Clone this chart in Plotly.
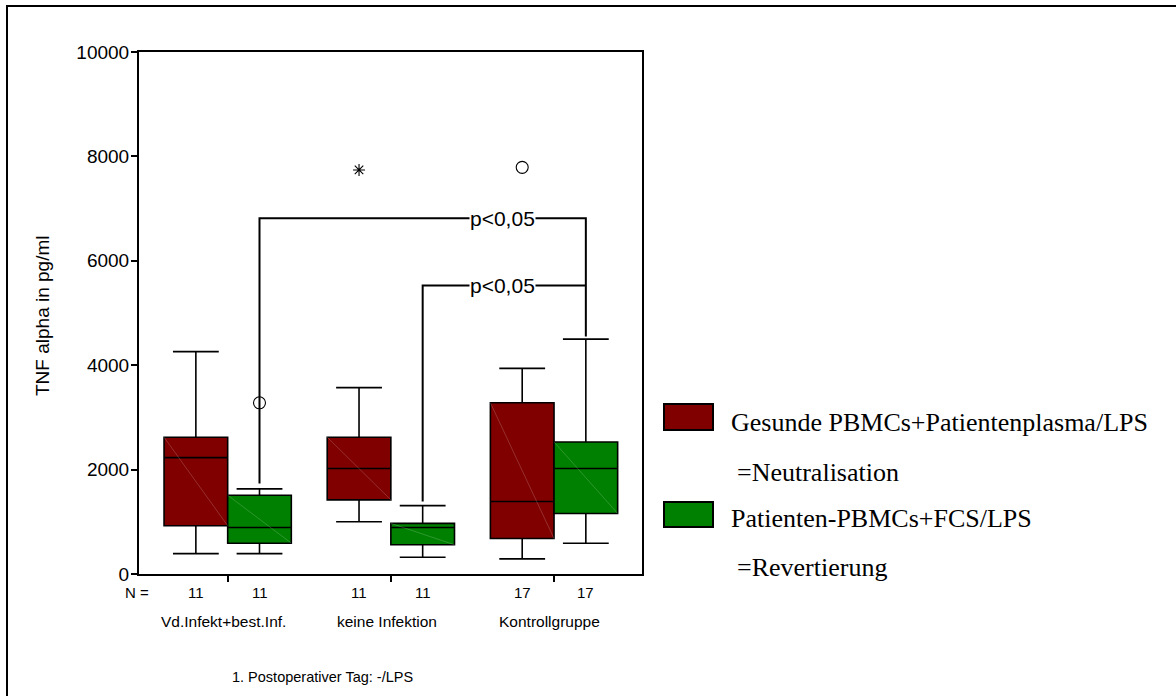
import plotly.graph_objects as go

# ---------------- data ----------------
groups = ["Vd.Infekt+best.Inf.", "keine Infektion", "Kontrollgruppe"]
n_red = [11, 11, 17]
n_green = [11, 11, 17]

red_low = [390, 1000, 290]
red_q1 = [925, 1420, 680]
red_med = [2230, 2020, 1390]
red_q3 = [2620, 2620, 3280]
red_up = [4260, 3570, 3940]

green_low = [390, 320, 590]
green_q1 = [590, 560, 1160]
green_med = [890, 890, 2020]
green_q3 = [1510, 970, 2530]
green_up = [1630, 1310, 4500]

# outliers
outlier_group = [0, 1, 2]
outlier_series = ["green", "red", "red"]
outlier_value = [3280, 7740, 7790]
outlier_symbol = ["circle-open", "asterisk-open", "circle-open"]
outlier_size = [12, 10, 12]

# significance brackets
brk_from = [0, 1]
brk_to = [2, 2]
brk_left_start = [1735, 1390]
brk_height = [6817, 5527]
brk_right_end = [4550, None]
brk_label = ["p<0,05", "p<0,05"]

legend_names = ["Gesunde PBMCs+Patientenplasma/LPS", "Patienten-PBMCs+FCS/LPS"]
legend_sub = ["=Neutralisation", "=Revertierung"]
y_title = "TNF alpha in pg/ml"
x_title = "1. Postoperativer Tag: -/LPS"
y_ticks = [0, 2000, 4000, 6000, 8000, 10000]
y_ticktext = ["0", "2000", "4000", "6000", "8000", "10000"]

RED = "#800000"
GREEN = "#008000"

# ---------------- layout helpers ----------------
PX0, PX1, PY0, PY1 = 139, 642, 52, 574
W, H = 1176, 696
UNIT = 163.2  # px per group


def px(x):
    return (x - PX0) / (PX1 - PX0)


def py(y):
    return (PY1 - y) / (PY1 - PY0)


OFF = 0.195
BW = 0.39
pos = [1, 2, 3]
red_x = [p - OFF for p in pos]
green_x = [p + OFF for p in pos]
SANS = "Liberation Sans, Arial, sans-serif"
SERIF = "Liberation Serif, Times New Roman, serif"

fig = go.Figure()

for xs, lo, q1, md, q3, up, col in [
    (red_x, red_low, red_q1, red_med, red_q3, red_up, RED),
    (green_x, green_low, green_q1, green_med, green_q3, green_up, GREEN),
]:
    fig.add_trace(go.Box(
        x=xs, q1=q1, median=md, q3=q3, lowerfence=lo, upperfence=up,
        width=BW, whiskerwidth=0.72, fillcolor=col,
        line=dict(color="black", width=1.6), boxpoints=False,
        showlegend=False, hoverinfo="skip"))
    for x, a, b in zip(xs, q1, q3):
        fig.add_trace(go.Scatter(
            x=[x - BW / 2, x + BW / 2], y=[b, a], mode="lines",
            line=dict(color="rgba(255,255,255,0.3)", width=0.6),
            showlegend=False, hoverinfo="skip"))

for g, s, v, sym, sz in zip(outlier_group, outlier_series, outlier_value,
                            outlier_symbol, outlier_size):
    x = red_x[g] if s == "red" else green_x[g]
    fig.add_trace(go.Scatter(
        x=[x], y=[v], mode="markers",
        marker=dict(symbol=sym, size=sz, color="black", line=dict(width=1.1, color="black")),
        showlegend=False, hoverinfo="skip"))

for f, t, ls, h, re in zip(brk_from, brk_to, brk_left_start, brk_height, brk_right_end):
    xs = [green_x[f], green_x[f], green_x[t]]
    ys = [ls, h, h]
    if re is not None:
        xs.append(green_x[t])
        ys.append(re)
    fig.add_trace(go.Scatter(x=xs, y=ys, mode="lines",
                             line=dict(color="black", width=2),
                             showlegend=False, hoverinfo="skip"))

annotations = []
for h, lab in zip(brk_height, brk_label):
    annotations.append(dict(x=2.685, y=h, xref="x", yref="y", text=lab, showarrow=False,
                            font=dict(family=SANS, size=21, color="black"),
                            bgcolor="white", borderpad=0, xanchor="center", yanchor="middle"))

annotations.append(dict(x=px(137), y=py(592), xref="paper", yref="paper", text="N =",
                        showarrow=False, font=dict(family=SANS, size=15, color="black"),
                        xanchor="center", yanchor="middle"))
for xr, xg, nr, ng in zip(red_x, green_x, n_red, n_green):
    for xx, nn in [(xr, nr), (xg, ng)]:
        annotations.append(dict(x=xx, y=py(592), xref="x", yref="paper", text=str(nn),
                                showarrow=False, font=dict(family=SANS, size=15, color="black"),
                                xanchor="center", yanchor="middle"))
for p, g in zip(pos, groups):
    annotations.append(dict(x=p - 0.025, y=py(621), xref="x", yref="paper", text=g,
                            showarrow=False, font=dict(family=SANS, size=15.5, color="black"),
                            xanchor="center", yanchor="middle"))

annotations.append(dict(x=px(322), y=py(677), xref="paper", yref="paper", text=x_title,
                        showarrow=False, font=dict(family=SANS, size=14.5, color="black"),
                        xanchor="center", yanchor="middle"))
annotations.append(dict(x=px(42), y=py(316), xref="paper", yref="paper", text=y_title,
                        showarrow=False, textangle=-90,
                        font=dict(family=SANS, size=19, color="black"),
                        xanchor="center", yanchor="middle"))

shapes = []
leg_rect_y = [(404, 430), (502, 527)]
leg_text_y = [(422, 472), (518, 567)]
for (y0, y1), (ty1, ty2), col, nm, sub in zip(leg_rect_y, leg_text_y, [RED, GREEN],
                                             legend_names, legend_sub):
    shapes.append(dict(type="rect", xref="paper", yref="paper",
                       x0=px(664), x1=px(713), y0=py(y1), y1=py(y0),
                       fillcolor=col, line=dict(color="black", width=2)))
    annotations.append(dict(x=px(729), y=py(ty1), xref="paper", yref="paper", text=nm,
                            showarrow=False, font=dict(family=SERIF, size=26, color="black"),
                            xanchor="left", yanchor="middle"))
    annotations.append(dict(x=px(735), y=py(ty2), xref="paper", yref="paper", text=sub,
                            showarrow=False, font=dict(family=SERIF, size=26, color="black"),
                            xanchor="left", yanchor="middle"))

shapes.append(dict(type="rect", xref="paper", yref="paper",
                   x0=px(7), x1=px(1200), y0=py(720), y1=py(6),
                   line=dict(color="black", width=2), fillcolor="rgba(0,0,0,0)", layer="below"))

fig.update_layout(
    width=W, height=H,
    margin=dict(l=PX0, r=W - PX1, t=PY0, b=H - PY1, pad=0),
    paper_bgcolor="white", plot_bgcolor="white",
    showlegend=False,
    shapes=shapes, annotations=annotations,
    xaxis=dict(range=[1 - (227.7 - PX0) / UNIT, 3 + (PX1 - 554) / UNIT],
               tickvals=pos, ticktext=["", "", ""],
               ticks="outside", ticklen=6, tickwidth=1.5, tickcolor="black",
               showline=True, linecolor="black", linewidth=2, mirror=True,
               showgrid=False, zeroline=False, fixedrange=True),
    yaxis=dict(range=[0, 10000], tickvals=y_ticks, ticktext=y_ticktext,
               ticks="outside", ticklen=6, tickwidth=1.5,
               tickcolor="black", showline=True, linecolor="black", linewidth=2, mirror=True,
               showgrid=False, zeroline=False,
               tickfont=dict(family=SANS, size=19, color="black"), ticklabelstandoff=-2),
)

fig.write_html("out.html")
